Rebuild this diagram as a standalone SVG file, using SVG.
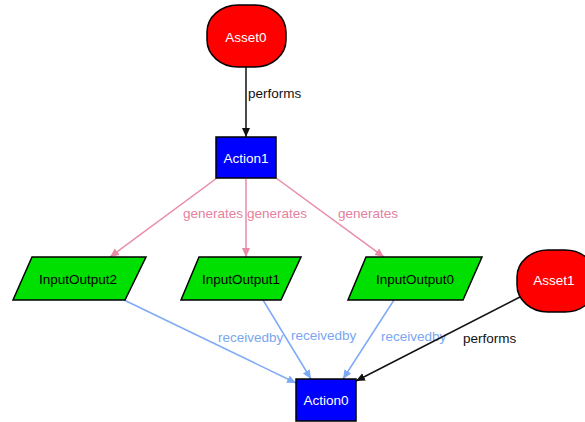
<svg xmlns="http://www.w3.org/2000/svg" width="585" height="422" viewBox="0 0 585 422">
<style>
text{font-family:"Liberation Sans",Arial,sans-serif;font-size:13.5px}
.asset{fill:#ff0000;stroke:#000;stroke-width:1.5}
.action{fill:#0000ff;stroke:#000;stroke-width:1.5}
.io{fill:#00e000;stroke:#000;stroke-width:1.5}
.wt{fill:#fff;text-anchor:middle}
.bt{fill:#000;text-anchor:middle}
.e-perf{stroke:#111;stroke-width:1.5;fill:none}
.e-gen{stroke:#e98aa6;stroke-width:1.5;fill:none}
.e-rec{stroke:#7eaaf5;stroke-width:1.5;fill:none}
.l-perf{fill:#111}
.l-gen{fill:#e47f9e}
.l-rec{fill:#7aa6f0}
</style>
<defs>
<marker id="aBlack" markerUnits="userSpaceOnUse" markerWidth="10" markerHeight="10" refX="9" refY="4" orient="auto"><path d="M0,0 L9,4 L0,8 Z" fill="#111"/></marker>
<marker id="aPink" markerUnits="userSpaceOnUse" markerWidth="10" markerHeight="10" refX="9" refY="4" orient="auto"><path d="M0,0 L9,4 L0,8 Z" fill="#e98aa6"/></marker>
<marker id="aBlue" markerUnits="userSpaceOnUse" markerWidth="10" markerHeight="10" refX="9" refY="4" orient="auto"><path d="M0,0 L9,4 L0,8 Z" fill="#7eaaf5"/></marker>
</defs>
<rect width="585" height="422" fill="#fff"/>
<g id="connectors">
<line class="e-perf" x1="246" y1="67" x2="246" y2="137" marker-end="url(#aBlack)"/>
<text class="l-perf" x="248" y="98">performs</text>
<line class="e-gen" x1="217" y1="178" x2="110" y2="257" marker-end="url(#aPink)"/>
<line class="e-gen" x1="246" y1="179" x2="246" y2="257" marker-end="url(#aPink)"/>
<line class="e-gen" x1="276" y1="178" x2="384" y2="257" marker-end="url(#aPink)"/>
<text class="l-gen" x="183" y="218">generates</text>
<text class="l-gen" x="247" y="218">generates</text>
<text class="l-gen" x="338" y="218">generates</text>
<line class="e-rec" x1="124" y1="300" x2="296" y2="383" marker-end="url(#aBlue)"/>
<line class="e-rec" x1="263" y1="300" x2="311" y2="379" marker-end="url(#aBlue)"/>
<line class="e-rec" x1="394" y1="300" x2="343" y2="379" marker-end="url(#aBlue)"/>
<text class="l-rec" x="218" y="342">receivedby</text>
<text class="l-rec" x="291" y="340">receivedby</text>
<text class="l-rec" x="381" y="341">receivedby</text>
<line class="e-perf" x1="520" y1="297" x2="356" y2="381" marker-end="url(#aBlack)"/>
<text class="l-perf" x="463" y="343">performs</text>
</g>
<g id="Asset0">
<rect class="asset" x="207" y="5" width="79" height="62" rx="31" ry="27"/>
<text class="wt" x="246" y="42">Asset0</text>
</g>
<g id="Action1">
<rect class="action" x="216" y="137" width="60" height="41"/>
<text class="wt" x="246" y="163">Action1</text>
</g>
<g id="InputOutput2">
<polygon class="io" points="32,257 146,257 125,300 13,300"/>
<text class="bt" x="78" y="284">InputOutput2</text>
</g>
<g id="InputOutput1">
<polygon class="io" points="199,257 301,257 281,300 181,300"/>
<text class="bt" x="241" y="284">InputOutput1</text>
</g>
<g id="InputOutput0">
<polygon class="io" points="366,257 482,257 463,300 348,300"/>
<text class="bt" x="415" y="284">InputOutput0</text>
</g>
<g id="Asset1">
<rect class="asset" x="517" y="250" width="79" height="62" rx="31" ry="27"/>
<text class="wt" x="554" y="285">Asset1</text>
</g>
<g id="Action0">
<rect class="action" x="296" y="379" width="60" height="42"/>
<text class="wt" x="326" y="405">Action0</text>
</g>
</svg>
